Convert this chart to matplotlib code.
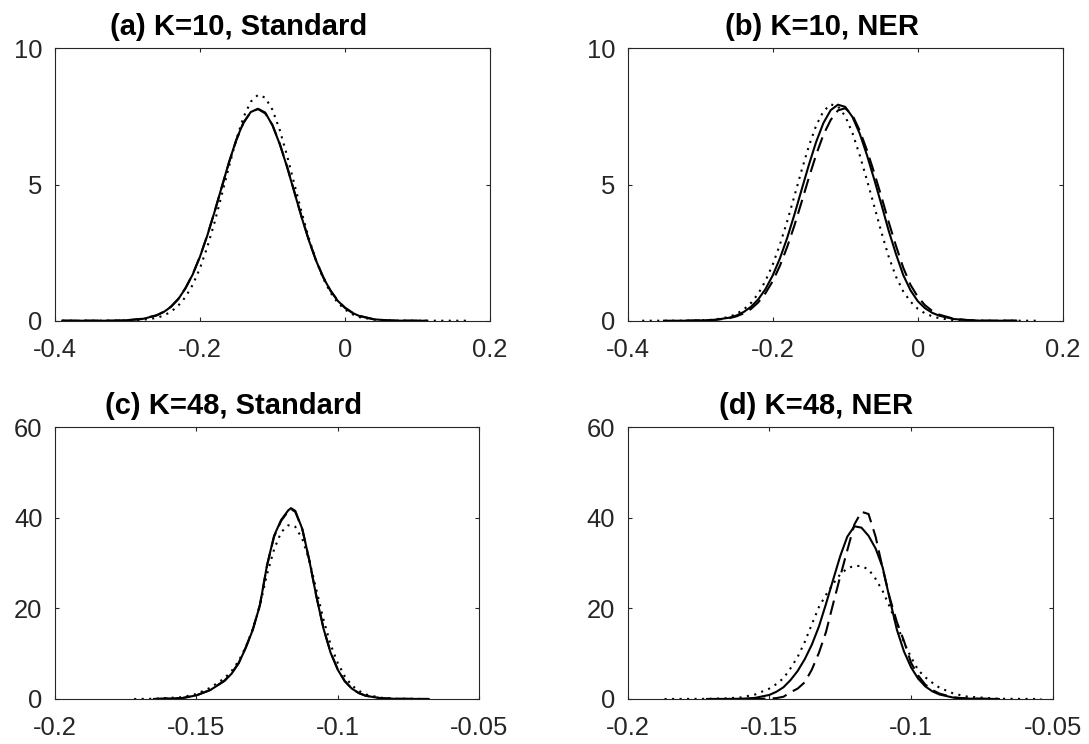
import numpy as np
import matplotlib
matplotlib.use("Agg")
import matplotlib.pyplot as plt

plt.rcParams['font.family'] = ['Liberation Sans', 'DejaVu Sans']

# ---------------- data ----------------
titles = ["(a) K=10, Standard", "(b) K=10, NER", "(c) K=48, Standard", "(d) K=48, NER"]

xticks_top = [-0.4, -0.2, 0, 0.2]
xticklabels_top = ["-0.4", "-0.2", "0", "0.2"]
yticks_top = [0, 5, 10]
yticklabels_top = ["0", "5", "10"]

xticks_bot = [-0.2, -0.15, -0.1, -0.05]
xticklabels_bot = ["-0.2", "-0.15", "-0.1", "-0.05"]
yticks_bot = [0, 20, 40, 60]
yticklabels_bot = ["0", "20", "40", "60"]

N = None

# panel (a)
xa = [-0.39, -0.35, -0.32, -0.30, -0.28, -0.26, -0.25, -0.24, -0.23, -0.22, -0.21,
      -0.20, -0.19, -0.18, -0.17, -0.16, -0.15, -0.14, -0.13, -0.12, -0.11, -0.10,
      -0.09, -0.08, -0.07, -0.06, -0.05, -0.04, -0.03, -0.02, -0.01, 0.00, 0.01,
      0.02, 0.04, 0.06, 0.08, 0.10, 0.112, 0.14, 0.17]
a_solid = [0.00, 0.00, 0.00, 0.02, 0.06, 0.19, 0.32, 0.51, 0.79, 1.19, 1.70,
           2.35, 3.12, 3.99, 4.91, 5.82, 6.64, 7.28, 7.66, 7.78, 7.64, 7.17,
           6.48, 5.65, 4.73, 3.81, 2.96, 2.21, 1.59, 1.10, 0.73, 0.47, 0.29,
           0.17, 0.05, 0.01, 0.00, 0.00, 0.00, N, N]
a_dashed = [0.00, 0.00, 0.00, 0.02, 0.07, 0.20, 0.33, 0.52, 0.80, 1.20, 1.71,
            2.36, 3.13, 3.99, 4.90, 5.80, 6.62, 7.26, 7.66, 7.77, 7.61, 7.18,
            6.50, 5.67, 4.75, 3.83, 2.97, 2.22, 1.60, 1.11, 0.74, 0.48, 0.30,
            0.18, 0.05, 0.01, 0.00, 0.00, 0.00, N, N]
a_dotted = [0.00, 0.00, 0.00, 0.01, 0.03, 0.10, 0.19, 0.33, 0.55, 0.87, 1.32,
            1.93, 2.70, 3.60, 4.62, 5.66, 6.65, 7.47, 8.04, 8.29, 8.19, 7.74,
            7.00, 6.07, 5.03, 4.00, 3.04, 2.22, 1.55, 1.03, 0.66, 0.41, 0.24,
            0.13, 0.04, 0.01, 0.00, 0.00, 0.00, 0.00, 0.00]

# panel (b)
xb = [-0.38, -0.35, -0.32, -0.30, -0.28, -0.26, -0.25, -0.24, -0.23, -0.22, -0.21,
      -0.20, -0.19, -0.18, -0.17, -0.16, -0.15, -0.14, -0.13, -0.12, -0.11, -0.10,
      -0.09, -0.08, -0.07, -0.06, -0.05, -0.04, -0.03, -0.02, -0.01, 0.00, 0.01,
      0.02, 0.03, 0.05, 0.07, 0.09, 0.136, 0.17]
b_solid = [N, 0.00, 0.00, 0.01, 0.03, 0.11, 0.19, 0.32, 0.51, 0.78, 1.16,
           1.66, 2.29, 3.04, 3.90, 4.82, 5.73, 6.57, 7.26, 7.73, 7.93, 7.85,
           7.48, 6.87, 6.08, 5.19, 4.26, 3.30, 2.45, 1.68, 1.12, 0.72, 0.46,
           0.29, 0.18, 0.06, 0.02, 0.00, 0.00, N]
b_dashed = [N, N, 0.00, 0.01, 0.03, 0.09, 0.16, 0.27, 0.43, 0.67, 1.01,
            1.45, 2.02, 2.71, 3.50, 4.37, 5.26, 6.10, 6.83, 7.37, 7.72, 7.80,
            7.55, 6.98, 6.26, 5.43, 4.55, 3.62, 2.75, 1.95, 1.32, 0.88, 0.57,
            0.36, 0.22, 0.07, 0.02, 0.00, 0.00, N]
b_dotted = [0.00, 0.00, 0.00, 0.01, 0.04, 0.14, 0.25, 0.41, 0.65, 0.99, 1.46,
            2.06, 2.80, 3.65, 4.58, 5.53, 6.42, 7.17, 7.69, 7.94, 7.87, 7.51,
            6.89, 6.08, 5.16, 4.21, 3.24, 2.35, 1.62, 1.08, 0.70, 0.44, 0.27,
            0.16, 0.09, 0.02, 0.00, 0.00, 0.00, 0.00]

# panel (c)
xc = [-0.172, -0.165, -0.155, -0.150, -0.145, -0.140, -0.1375, -0.135, -0.1325,
      -0.130, -0.1275, -0.125, -0.1225, -0.120, -0.1175, -0.1165, -0.115, -0.1125,
      -0.110, -0.1075, -0.105, -0.1025, -0.100, -0.0975, -0.095, -0.0925, -0.090,
      -0.085, -0.080, -0.0678]
c_solid = [N, 0.0, 0.2, 0.8, 2.0, 4.0, 5.6, 7.9, 11.3, 15.3, 20.7, 29.5, 36.0,
           39.5, 41.6, 42.1, 41.5, 37.5, 30.5, 22.5, 15.5, 10.2, 6.5, 3.9, 2.3,
           1.3, 0.7, 0.2, 0.05, 0.0]
c_dashed = [N, 0.0, 0.2, 0.8, 2.0, 4.1, 5.7, 8.0, 11.4, 15.4, 20.8, 29.4, 35.8,
            39.3, 41.4, 41.9, 41.3, 37.4, 30.5, 22.6, 15.6, 10.3, 6.6, 4.0, 2.3,
            1.3, 0.7, 0.2, 0.05, 0.0]
c_dotted = [0.0, 0.05, 0.4, 1.1, 2.5, 4.6, 6.2, 8.4, 11.5, 15.5, 20.6, 27.5, 33.0,
            36.8, 38.3, 38.4, 38.0, 35.3, 30.5, 24.0, 17.5, 12.0, 8.0, 5.0, 3.0,
            1.8, 1.0, 0.3, 0.08, 0.0]

# panel (d)
xd = [-0.187, -0.172, -0.165, -0.160, -0.155, -0.150, -0.1475, -0.145, -0.1425,
      -0.140, -0.1375, -0.135, -0.1325, -0.130, -0.1275, -0.125, -0.1225, -0.120,
      -0.1175, -0.115, -0.1125, -0.110, -0.1075, -0.105, -0.1025, -0.100, -0.0975,
      -0.095, -0.0925, -0.090, -0.085, -0.080, -0.069, -0.054]
d_solid = [N, 0.0, 0.02, 0.05, 0.25, 0.9, 1.6, 2.6, 4.2, 6.2, 8.8, 12.0, 16.0,
           21.0, 26.3, 31.5, 35.8, 38.1, 37.8, 36.0, 33.2, 29.0, 22.0, 15.3,
           10.5, 7.0, 4.5, 2.8, 1.7, 1.0, 0.3, 0.08, 0.0, N]
d_dashed = [N, 0.0, 0.0, 0.0, 0.02, 0.1, 0.2, 0.5, 1.5, 2.3, 3.7, 6.5, 10.2,
            14.8, 21.0, 27.0, 32.8, 38.5, 41.3, 40.8, 35.8, 28.8, 22.3, 17.0,
            12.8, 8.0, 5.2, 3.2, 2.0, 1.2, 0.35, 0.1, 0.0, N]
d_dotted = [0.0, 0.03, 0.15, 0.35, 1.0, 2.3, 3.3, 4.6, 6.8, 9.3, 12.6, 16.5, 20.3,
            23.0, 25.4, 27.5, 28.8, 29.4, 29.3, 28.6, 26.5, 23.8, 20.3, 16.3,
            12.5, 9.2, 6.4, 4.8, 3.6, 2.5, 1.2, 0.5, 0.06, 0.0]

panels = [
    (xa, a_solid, a_dashed, a_dotted),
    (xb, b_solid, b_dashed, b_dotted),
    (xc, c_solid, c_dashed, c_dotted),
    (xd, d_solid, d_dashed, d_dotted),
]

# ---------------- layout ----------------
W, H = 1089, 744
fig = plt.figure(figsize=(W / 100, H / 100), dpi=100)

# axes boxes in pixels: left, right, top, bottom
boxes = [
    (55, 490, 48.3, 320.7),
    (627.7, 1062.7, 48.3, 320.7),
    (55, 479, 427, 699),
    (627.7, 1052.7, 427, 699),
]
title_x = [0.423, 0.447, 0.42, 0.444]

axcol = (0.15, 0.15, 0.15)

for i, (box, data) in enumerate(zip(boxes, panels)):
    l, r, t, b = box
    ax = fig.add_axes([l / W, 1 - b / H, (r - l) / W, (b - t) / H])
    x, ys, yd, yo = data
    x = np.array(x, dtype=float)
    ax.plot(x, np.array(ys, dtype=float), color='black', lw=1.5, linestyle='-')
    ax.plot(x, np.array(yd, dtype=float), color='black', lw=1.5,
            linestyle=(0, (7, 3.5)))
    ax.plot(x, np.array(yo, dtype=float), color='black', lw=1.5,
            linestyle=(0, (1, 2.6)))
    if i < 2:
        ax.set_xlim(-0.4, 0.2)
        ax.set_ylim(0, 10)
        ax.set_xticks(xticks_top)
        ax.set_xticklabels(xticklabels_top)
        ax.set_yticks(yticks_top)
        ax.set_yticklabels(yticklabels_top)
    else:
        ax.set_xlim(-0.2, -0.05)
        ax.set_ylim(0, 60)
        ax.set_xticks(xticks_bot)
        ax.set_xticklabels(xticklabels_bot)
        ax.set_yticks(yticks_bot)
        ax.set_yticklabels(yticklabels_bot)
    for sp in ax.spines.values():
        sp.set_color(axcol)
        sp.set_linewidth(0.8)
    ax.tick_params(direction='in', top=True, right=True, length=3.2, width=0.8,
                   color=axcol, labelcolor=axcol, labelsize=18.4)
    ax.tick_params(axis='x', pad=12.3)
    ax.tick_params(axis='y', pad=9.0)
    ax.set_title(titles[i], fontsize=21, fontweight='bold', pad=9.6,
                 x=title_x[i], color='black')

fig.savefig("out.png", dpi=100)
